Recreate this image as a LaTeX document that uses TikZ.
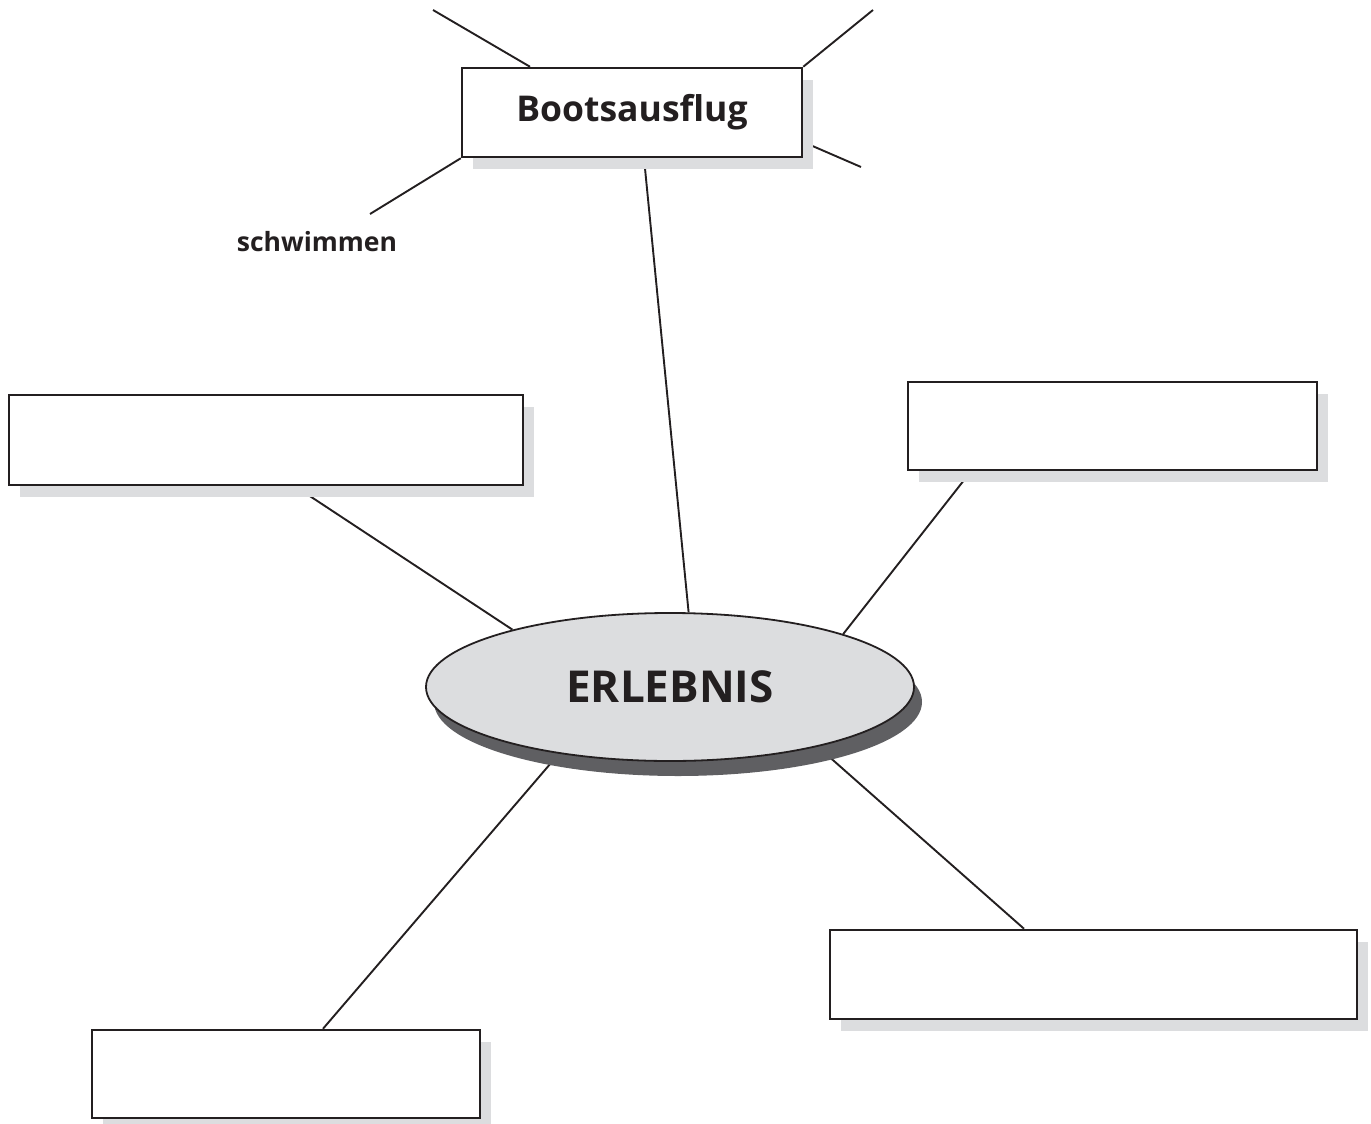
\documentclass[tikz,border=0pt]{standalone}
\usepackage{fontspec}
\setmainfont{Open Sans}
\usetikzlibrary{shapes.geometric, shadows}
\definecolor{ink}{RGB}{35,31,32}
\definecolor{paleshade}{RGB}{220,221,223}
\definecolor{darkshade}{RGB}{95,95,98}
\pgfdeclarelayer{background}
\pgfsetlayers{background,main}

\begin{document}
\begin{tikzpicture}[
				x=1pt, y=-1pt,
				entry/.style={rectangle, draw=ink, fill=white, line width=2.5pt, inner sep=0pt, text=ink,
					drop shadow={shadow xshift=11pt, shadow yshift=-12pt, fill=paleshade, opacity=1}},
				core/.style={ellipse, draw=ink, fill=paleshade, line width=1.8pt, inner sep=0pt,
					minimum width=488pt, minimum height=148pt, text=ink,
					font=\fontsize{44}{50}\selectfont\bfseries,
					drop shadow={shadow xshift=8pt, shadow yshift=-15pt, fill=darkshade, opacity=1}},
				spoke/.style={draw=ink, line width=1.9pt},
				note/.style={text=ink, inner sep=0pt, font=\fontsize{26.5}{30}\selectfont\bfseries}
				]
				
				\useasboundingbox (0,0) rectangle (1371,1124);
				
				% Nodes
				\node[entry, minimum width=340pt, minimum height=89pt,
					font=\fontsize{35.5}{40}\selectfont\bfseries] (boot) at (632,112.5) {Bootsausflug};
				\node[entry, minimum width=514pt, minimum height=90pt] (slotL) at (266,440) {};
				\node[entry, minimum width=409pt, minimum height=88pt] (slotR) at (1112.5,426) {};
				\node[entry, minimum width=527pt, minimum height=89pt] (slotBR) at (1093.5,974.5) {};
				\node[entry, minimum width=388pt, minimum height=88pt] (slotBL) at (286,1074) {};
				\node[core] (erl) at (670,687) {ERLEBNIS};
				\node[note, anchor=base] (swim) at (317,251) {schwimmen};
				
				% Free ends
				\coordinate (endNW) at (433,10);
				\coordinate (endNE) at (873,10);
				\coordinate (endSW) at (370,214);
				\coordinate (endSE) at (861,167);
				
				% Lines
				\begin{pgfonlayer}{background}
				\draw[spoke] ([xshift=12pt]boot.south) -- (erl.76);
				\draw[spoke] ([xshift=29pt]slotL.south) -- (erl.160);
				\draw[spoke] ([xshift=-141.5pt]slotR.south) -- (erl.17);
				\draw[spoke] (erl.211) -- ([xshift=37pt]slotBL.north);
				\draw[spoke] (erl.338) -- ([xshift=-69.5pt]slotBR.north);
				\draw[spoke] ([xshift=-102pt]boot.north) -- (endNW);
				\draw[spoke] (boot.north east) -- (endNE);
				\draw[spoke] (boot.south west) -- (endSW);
				\draw[spoke] ([yshift=-29.5pt]boot.east) -- (endSE);
				\end{pgfonlayer}
				
			\end{tikzpicture}
\end{document}
